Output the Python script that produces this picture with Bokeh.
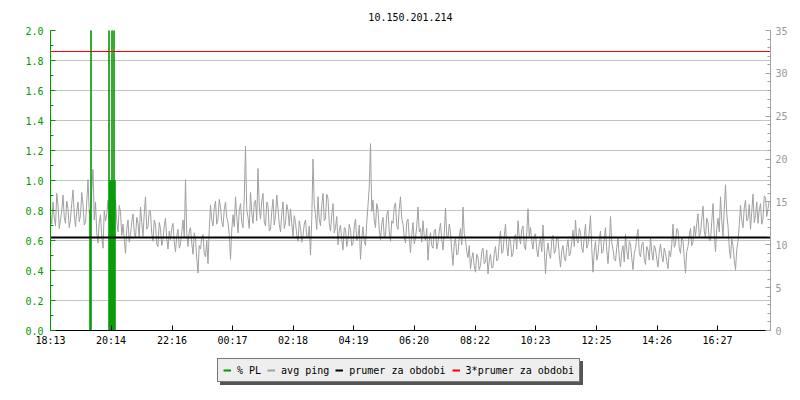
from bokeh.plotting import figure
from bokeh.layouts import column
from bokeh.models import (Range1d, LinearAxis, FixedTicker, PrintfTickFormatter,
                          Legend, LegendItem)
from bokeh.embed import file_html
from bokeh.resources import INLINE

# ---------------- data ----------------
title_text = "10.150.201.214"
start_label = "18:13"
span_min = 1440          # 24 h shown
sample_step_min = 2.5    # avg ping sampling step

avg_ping_ms = [
    13.8, 12.4, 15.0, 13.1, 12.2, 16.0, 14.6, 11.9, 12.9, 14.0, 15.8, 13.2, 12.5, 15.1, 14.2, 12.0, 13.0, 14.8, 16.4, 13.5, 12.1, 13.9, 15.0, 12.7,
    13.4, 16.1, 14.7, 12.3, 12.6, 14.9, 17.6, 13.8, 14.2, 16.3, 18.8, 12.9, 15.0, 11.4, 10.2, 12.6, 13.5, 11.0, 9.6, 14.0, 12.8, 13.6, 15.2, 12.9,
    14.1, 11.6, 12.0, 14.2, 15.3, 12.8, 11.5, 14.6, 13.8, 11.1, 12.4, 10.6, 9.0, 11.8, 12.9, 10.3, 11.2, 12.7, 13.6, 11.4, 10.8, 13.2, 12.5, 10.9,
    14.4, 12.6, 11.0, 13.7, 15.6, 11.8, 12.1, 14.0, 13.9, 11.3, 10.4, 12.9, 12.3, 10.1, 9.8, 12.6, 11.9, 9.9, 10.6, 12.2, 13.1, 10.7, 9.5, 11.6,
    10.6, 11.9, 12.5, 10.4, 9.2, 11.0, 11.8, 9.6, 10.1, 11.5, 12.9, 10.8, 17.6, 11.3, 9.8, 11.6, 12.0, 10.2, 8.9, 11.4, 10.7, 8.4, 6.7, 9.9,
    9.5, 10.8, 11.2, 9.0, 8.6, 10.5, 7.8, 11.8, 14.6, 12.9, 12.2, 14.3, 15.1, 12.4, 13.0, 15.3, 14.4, 12.7, 12.1, 14.1, 15.0, 13.2, 12.6, 11.2,
    8.3, 11.7, 13.5, 12.1, 15.6, 13.3, 11.4, 14.0, 14.8, 12.6, 12.0, 15.4, 21.5, 14.1, 13.2, 11.9, 16.1, 13.8, 12.5, 14.9, 15.2, 12.8, 18.9, 14.4,
    13.0, 15.1, 16.0, 12.7, 12.2, 15.0, 14.6, 11.6, 11.8, 13.9, 15.3, 12.3, 13.4, 15.8, 14.2, 12.4, 11.5, 13.6, 15.0, 11.9, 12.6, 14.7, 14.0, 12.2,
    14.2, 12.5, 11.0, 13.4, 12.6, 11.2, 10.4, 12.8, 12.0, 10.3, 11.1, 12.4, 12.9, 11.0, 10.8, 12.2, 8.8, 13.0, 20.0, 14.7, 13.5, 11.8, 15.6, 13.0,
    12.2, 14.6, 16.0, 12.8, 13.1, 15.9, 15.4, 12.5, 11.6, 13.5, 14.8, 11.4, 12.0, 13.3, 10.0, 11.7, 12.3, 10.6, 9.4, 12.0, 11.9, 9.8, 10.6, 12.4,
    11.7, 9.9, 10.2, 12.1, 13.0, 10.5, 10.9, 12.3, 8.3, 10.7, 12.1, 10.4, 9.9, 12.6, 14.6, 16.8, 21.8, 13.9, 15.2, 12.9, 12.0, 14.8, 14.1, 11.7,
    10.6, 12.4, 13.2, 10.9, 11.1, 13.5, 14.0, 11.6, 10.4, 12.8, 12.5, 14.4, 14.9, 12.2, 11.8, 14.2, 15.6, 13.1, 12.4, 10.9, 10.2, 12.7, 13.0, 10.8,
    9.1, 11.2, 12.6, 10.1, 10.8, 12.2, 14.4, 11.5, 11.9, 10.3, 12.8, 11.0, 10.5, 11.9, 8.2, 10.4, 11.4, 9.9, 9.6, 11.7, 11.8, 9.5, 10.2, 11.6,
    12.5, 10.6, 9.4, 11.3, 14.3, 11.1, 10.8, 12.4, 11.5, 9.3, 7.6, 10.2, 10.7, 8.8, 9.0, 10.9, 11.9, 10.0, 14.4, 11.3, 10.6, 9.2, 8.5, 9.9,
    7.2, 8.4, 9.1, 7.5, 6.8, 8.9, 8.5, 7.1, 7.6, 9.2, 9.6, 7.8, 8.0, 9.4, 6.6, 8.2, 8.9, 7.3, 7.4, 9.0, 9.8, 8.1, 8.3, 10.2,
    11.6, 9.0, 9.2, 11.0, 12.4, 9.8, 8.7, 10.9, 10.4, 8.6, 9.0, 10.8, 11.2, 9.5, 12.8, 10.9, 10.1, 11.8, 12.2, 9.9, 9.4, 11.4, 14.2, 11.0,
    12.0, 10.4, 9.5, 11.0, 11.3, 9.4, 8.6, 10.1, 10.7, 9.2, 12.3, 9.6, 6.6, 9.1, 10.2, 8.9, 8.4, 10.5, 11.1, 9.0, 9.3, 10.9, 10.8, 8.8,
    7.4, 9.3, 9.9, 8.5, 8.1, 9.7, 10.6, 8.7, 9.0, 10.4, 11.7, 9.8, 12.9, 10.6, 10.2, 11.9, 11.5, 9.7, 9.1, 11.0, 12.4, 9.6, 10.0, 11.6,
    13.4, 9.6, 6.8, 9.3, 10.4, 8.2, 8.9, 10.6, 11.6, 9.0, 9.2, 10.7, 12.0, 9.4, 7.8, 10.0, 13.3, 10.2, 9.5, 8.3, 8.1, 9.7, 10.8, 8.6,
    7.4, 9.2, 9.9, 8.0, 11.2, 9.3, 8.3, 10.4, 10.1, 8.5, 7.1, 9.0, 9.6, 10.9, 11.8, 9.1, 8.6, 10.0, 10.3, 8.4, 7.7, 9.8, 9.4, 8.2,
    10.9, 9.2, 8.2, 9.9, 9.5, 8.3, 7.4, 9.1, 10.1, 8.7, 8.0, 9.6, 9.0, 8.1, 7.2, 9.3, 8.6, 10.0, 12.4, 9.7, 10.1, 11.9, 11.7, 9.6,
    9.0, 10.8, 10.5, 8.4, 6.7, 9.2, 9.8, 11.1, 11.9, 9.9, 10.3, 12.2, 11.0, 12.5, 13.6, 10.9, 11.4, 13.0, 14.5, 11.6, 10.8, 13.1, 12.6, 10.5,
    10.5, 12.7, 14.8, 11.3, 9.2, 11.9, 13.1, 11.5, 15.6, 12.8, 11.0, 14.1, 17.0, 13.6, 12.2, 9.6, 8.4, 10.7, 9.9, 8.2, 7.1, 9.4, 10.4, 12.3,
    14.6, 12.9, 12.0, 14.3, 15.2, 12.8, 13.1, 14.7, 11.8, 13.9, 15.9, 12.6, 13.4, 15.0, 12.5, 14.1, 14.8, 12.4, 13.0, 15.7, 15.5, 13.3, 14.2, 15.1,
]

pl_offset_min = [78, 80, 116, 118, 120, 122, 124, 126, 128]
pl_percent = [0.8, 10.0, 10.0, 1.0, 1.0, 10.0, 1.0, 10.0, 1.0]
pl_step_min = 2

mean_ms = 10.85

x_tick_labels = ["18:13", "20:14", "22:16", "00:17", "02:18", "04:19",
                 "06:20", "08:22", "10:23", "12:25", "14:26", "16:27"]
left_ticks = [0.0, 0.2, 0.4, 0.6, 0.8, 1.0, 1.2, 1.4, 1.6, 1.8, 2.0]
left_minor = [0.1 * k for k in range(21)]
right_ticks = [0, 5, 10, 15, 20, 25, 30, 35]
right_minor = list(range(36))

legend_labels = ["% PL", "avg ping", "prumer za obdobi", "3*prumer za obdobi"]

# ---------------- style ----------------
FONT = "DejaVu Sans Mono"
GREEN = "#009900"
GREY = "#a0a0a0"
GRID = "#c4c4c4"
RED = "#ff0000"


def to_min(lbl):
    h, m = lbl.split(":")
    return int(h) * 60 + int(m)


start = to_min(start_label)
x_ticks = [(to_min(l) - start) % 1440 for l in x_tick_labels]
x_ping = [i * sample_step_min for i in range(len(avg_ping_ms))]

p = figure(width=800, height=350, output_backend="svg", toolbar_location=None,
           x_range=Range1d(0, span_min), y_range=Range1d(0, 2),
           min_border_left=50, min_border_right=30, min_border_top=30,
           min_border_bottom=20)
p.extra_y_ranges = {"ms": Range1d(0, 35)}
p.outline_line_color = None
p.background_fill_color = "white"

p.title.text = title_text
p.title.align = "center"
p.title.text_font = FONT
p.title.text_font_size = "10px"
p.title.text_font_style = "normal"
p.title.text_color = "black"
p.title.standoff = 20

# grid
p.xgrid.visible = False
p.ygrid.ticker = FixedTicker(ticks=left_ticks)
p.ygrid.grid_line_color = GRID

# x axis
xa = p.xaxis[0]
xa.ticker = FixedTicker(ticks=x_ticks, minor_ticks=[])
xa.major_label_overrides = {t: l for t, l in zip(x_ticks, x_tick_labels)}
xa.axis_line_color = "black"
xa.major_tick_line_color = "black"
xa.major_tick_in = 5
xa.major_tick_out = 0
xa.minor_tick_line_color = None
xa.major_label_text_font = FONT
xa.major_label_text_font_size = "10px"
xa.major_label_text_color = "black"
xa.major_label_standoff = 4

# left axis
ya = p.yaxis[0]
ya.ticker = FixedTicker(ticks=left_ticks, minor_ticks=left_minor)
ya.formatter = PrintfTickFormatter(format="%.1f")
ya.axis_line_color = GREEN
ya.major_tick_line_color = GREEN
ya.minor_tick_line_color = GREEN
ya.major_tick_in = 5
ya.major_tick_out = 0
ya.minor_tick_in = 3
ya.minor_tick_out = 0
ya.major_label_text_font = FONT
ya.major_label_text_font_size = "10px"
ya.major_label_text_color = GREEN
ya.major_label_standoff = 7

# right axis
ra = LinearAxis(y_range_name="ms",
                ticker=FixedTicker(ticks=right_ticks, minor_ticks=right_minor))
ra.axis_line_color = GREY
ra.major_tick_line_color = GREY
ra.minor_tick_line_color = GREY
ra.major_tick_in = 5
ra.major_tick_out = 0
ra.minor_tick_in = 3
ra.minor_tick_out = 0
ra.major_label_text_font = FONT
ra.major_label_text_font_size = "10px"
ra.major_label_text_color = "#999999"
ra.major_label_standoff = 5
p.add_layout(ra, "right")

# series
p.line(x_ping, avg_ping_ms, y_range_name="ms", line_color=GREY, line_width=1)
p.quad(left=pl_offset_min, right=[t + pl_step_min for t in pl_offset_min],
       bottom=[0] * len(pl_percent), top=pl_percent,
       fill_color=GREEN, fill_alpha=1.0, line_color=GREEN, line_width=0.6)
p.line([0, span_min], [mean_ms, mean_ms], y_range_name="ms",
       line_color="black", line_width=2)
p.line([0, span_min], [3 * mean_ms, 3 * mean_ms], y_range_name="ms",
       line_color=RED, line_width=1.2)

# ---------------- legend strip (second figure) ----------------
q = figure(width=800, height=50, output_backend="svg", toolbar_location=None,
           x_axis_type=None, y_axis_type=None,
           x_range=Range1d(0, 1), y_range=Range1d(0, 1),
           min_border=0)
q.outline_line_color = None
q.xgrid.visible = False
q.ygrid.visible = False

icon_colors = [GREEN, GREY, "black", RED]
# icon-only renderers, their data lies outside the visible range
dummies = [q.line([-2, -1], [-2, -1], line_color=c, line_width=2) for c in icon_colors]
items = [LegendItem(label=l, renderers=[r]) for l, r in zip(legend_labels, dummies)]
shadow_items = [LegendItem(label="\u00a0" * len(l), renderers=[r])
                for l, r in zip(legend_labels, dummies)]


def make_legend(its, loc, bg, border, txt):
    return Legend(items=its, location=loc, orientation="horizontal",
                  glyph_width=8, glyph_height=12, label_height=12,
                  label_standoff=6, spacing=6, padding=5, margin=0,
                  label_text_font=FONT, label_text_font_size="10px",
                  label_text_color=txt,
                  background_fill_color=bg, background_fill_alpha=1.0,
                  border_line_color=border, border_line_width=1)


q.add_layout(make_legend(shadow_items, (170, 15), "#555555", "#555555", "#555555"))
q.add_layout(make_legend(items, (167, 18), "#eeeeee", "black", "black"))

layout = column(p, q, spacing=0)
open("out.html", "w").write(file_html(layout, INLINE))
